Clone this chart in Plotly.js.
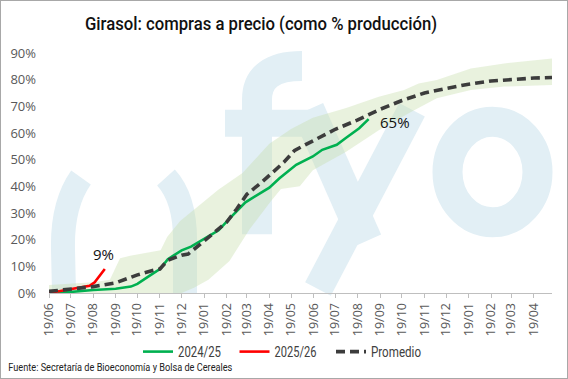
<!DOCTYPE html>
<html><head><meta charset="utf-8">
<script src="https://cdn.plot.ly/plotly-3.0.1.min.js"></script>
<style>
html,body{margin:0;padding:0;background:#fff;}
#wrap{position:relative;width:568px;height:379px;}
#chart{width:568px;height:379px;}
#frame{position:absolute;left:0;top:0;width:568px;height:379px;box-sizing:border-box;border:1.5px solid #a8a8a8;pointer-events:none;}
</style></head>
<body><div id="wrap"><div id="chart"></div><div id="frame"></div></div>
<script>
// ---- data (season-day aligned on a common Jun-19 start timeline) ----
const promDates = ['2024-06-19','2024-07-19','2024-08-19','2024-09-19','2024-10-05','2024-10-19','2024-11-10','2024-11-19','2024-11-23','2024-11-30','2024-12-19','2024-12-28','2025-01-19','2025-02-08','2025-02-19','2025-03-05','2025-03-19','2025-04-08','2025-04-19','2025-05-09','2025-05-24','2025-06-19','2025-07-19','2025-08-19','2025-09-19','2025-10-19','2025-11-19','2025-12-19','2026-01-19','2026-02-19','2026-03-19','2026-04-19','2026-05-14'];
const promVals  = [0.006,0.014,0.024,0.038,0.055,0.068,0.085,0.09,0.102,0.123,0.142,0.146,0.195,0.24,0.265,0.315,0.37,0.414,0.44,0.49,0.535,0.572,0.614,0.649,0.689,0.722,0.75,0.767,0.783,0.795,0.801,0.806,0.808];

const g2425Dates = ['2024-07-01','2024-07-19','2024-08-19','2024-09-19','2024-10-10','2024-10-19','2024-10-27','2024-11-05','2024-11-19','2024-11-30','2024-12-19','2025-01-01','2025-01-26','2025-02-08','2025-02-22','2025-03-17','2025-04-19','2025-05-03','2025-05-26','2025-06-18','2025-07-01','2025-07-21','2025-08-03','2025-08-21','2025-09-03'];
const g2425Vals  = [0.0,0.005,0.011,0.016,0.024,0.034,0.05,0.065,0.09,0.127,0.16,0.174,0.214,0.235,0.276,0.34,0.395,0.43,0.481,0.512,0.537,0.556,0.582,0.618,0.652];

const r2526Dates = ['2024-06-19','2024-07-01','2024-07-22','2024-08-05','2024-08-14','2024-08-21','2024-08-28','2024-09-04'];
const r2526Vals  = [0.0,0.006,0.016,0.021,0.027,0.04,0.065,0.09];

const bandUpDates = ['2024-06-19','2024-08-19','2024-09-11','2024-09-25','2024-10-09','2024-11-20','2024-11-29','2024-12-17','2025-02-08','2025-03-13','2025-04-19','2025-05-19','2025-06-18','2025-08-03','2025-09-17','2025-10-22','2025-11-11','2025-12-06','2026-01-22','2026-03-09','2026-05-14'];
const bandUpVals  = [0.03,0.04,0.05,0.13,0.14,0.16,0.21,0.27,0.388,0.45,0.56,0.615,0.657,0.694,0.736,0.761,0.786,0.799,0.842,0.861,0.879];
const bandLoDates = ['2024-06-19','2024-12-19','2025-01-05','2025-01-25','2025-02-23','2025-03-23','2025-04-20','2025-05-05','2025-05-31','2025-06-18','2025-08-03','2025-09-17','2025-11-01','2025-12-06','2026-01-22','2026-03-09','2026-05-14'];
const bandLoVals  = [0.0,0.0,0.02,0.05,0.12,0.24,0.34,0.39,0.40,0.46,0.53,0.61,0.68,0.73,0.761,0.774,0.78];

const seriesNames = ['2024/25','2025/26','Promedio'];
const titleText = 'Girasol: compras a precio (como % producción)';
const sourceText = 'Fuente: Secretaría de Bioeconomía y Bolsa de Cereales';

// ---- layout helpers ----
const L=49, R=16, T=53, B=85, W=568, H=379;
const pw=W-L-R, ph=H-T-B;
const px=x=>(x-L)/pw, py=y=>(T+ph-y)/ph;
const P=(pts)=>pts.map((p,i)=>(i===0?'M':(p.length===4?'Q':'L'))+' '+(p.length===4?`${px(p[0])},${py(p[1])} ${px(p[2])},${py(p[3])}`:`${px(p[0])},${py(p[1])}`)).join(' ');
const wm='#e2eff5';
const wmShape=(path,w)=>({type:'path',xref:'paper',yref:'paper',layer:'below',path:path,line:{color:wm,width:w},fillcolor:'rgba(0,0,0,0)'});

// background logo watermark
const shapes=[
  wmShape(P([[81,178],[62,205,63,250],[64,294]]),24),
  wmShape(P([[166,178],[186,200,185,245],[185,294]]),24),
  wmShape(P([[257,235],[257,100],[257,66,302,66]]),30),
  wmShape(P([[225,123.5],[312,123.5]]),27),
  wmShape(P([[308,110],[366,242]]),33),
  wmShape(P([[412,110],[318,290]]),29),
  {type:'circle',xref:'paper',yref:'paper',layer:'below',x0:px(447.5),x1:px(537.5),y0:py(223),y1:py(122),line:{color:wm,width:30},fillcolor:'rgba(0,0,0,0)'}
];

const traces=[
  {x:bandUpDates.concat(bandLoDates.slice().reverse()),y:bandUpVals.concat(bandLoVals.slice().reverse()),
   type:'scatter',mode:'lines',fill:'toself',fillcolor:'rgba(196,222,168,0.38)',line:{width:0},showlegend:false,hoverinfo:'skip'},
  {x:g2425Dates,y:g2425Vals,type:'scatter',mode:'lines',name:seriesNames[0],line:{color:'#00b050',width:2.6}},
  {x:r2526Dates,y:r2526Vals,type:'scatter',mode:'lines',name:seriesNames[1],line:{color:'#ff0000',width:2.6}},
  {x:promDates,y:promVals,type:'scatter',mode:'lines',name:seriesNames[2],line:{color:'#3c3c3c',width:3.6,dash:'9px,5px'}}
];

const cond='Roboto, "Noto Sans", sans-serif';
const tickFont={family:'"Open Sans",sans-serif',size:13,color:'#595959'};
const layout={
  width:W,height:H,margin:{l:L,r:R,t:T,b:B},
  paper_bgcolor:'#fff',plot_bgcolor:'#fff',
  title:{text:titleText,font:{family:cond,size:19,color:'#111',weight:500},x:261/W,xref:'container',xanchor:'center',y:1-23/H,yanchor:'middle'},
  xaxis:{type:'date',range:['2024-06-19','2026-05-14'],tick0:'2024-06-19',dtick:'M1',tickformat:'%d/%m',tickangle:-90,
    showgrid:false,zeroline:false,showline:true,linecolor:'#bfbfbf',linewidth:1,ticks:'outside',ticklen:4,tickcolor:'#bfbfbf',
    tickfont:{family:'"Open Sans",sans-serif',size:12.5,color:'#595959'}},
  yaxis:{range:[0,0.9],dtick:0.1,tickformat:'.0%',showgrid:false,zeroline:false,showline:false,ticks:'',ticklabelstandoff:12,
    tickfont:tickFont},
  showlegend:true,
  legend:{orientation:'h',x:px(283),xanchor:'center',y:py(352),yanchor:'middle',entrywidth:51.5,entrywidthmode:'pixels',
    font:{family:cond,size:14,color:'#404040'},bgcolor:'rgba(0,0,0,0)'},
  shapes:shapes,
  annotations:[
    {x:r2526Dates[r2526Dates.length-1],y:r2526Vals[r2526Vals.length-1],text:Math.round(r2526Vals[r2526Vals.length-1]*100)+'%',showarrow:false,
     xanchor:'center',yanchor:'bottom',xshift:-1,yshift:3,font:{family:'"Open Sans",sans-serif',size:15,color:'#111'}},
    {x:g2425Dates[g2425Dates.length-1],y:g2425Vals[g2425Vals.length-1],text:Math.round(g2425Vals[g2425Vals.length-1]*100)+'%',showarrow:false,
     xanchor:'left',yanchor:'middle',xshift:9,yshift:-3,font:{family:'"Open Sans",sans-serif',size:15,color:'#111'}},
    {xref:'paper',yref:'paper',x:px(120.5),y:py(368),xanchor:'center',yanchor:'middle',showarrow:false,text:sourceText,
     font:{family:cond,size:11.5,color:'#222'}}
  ]
};
Plotly.newPlot('chart',traces,layout,{staticPlot:true,displayModeBar:false}).then(function(gd){
  function squeeze(el,len){ el.setAttribute('textLength',len); el.setAttribute('lengthAdjust','spacingAndGlyphs'); }
  const t=gd.querySelector('.gtitle'); if(t) squeeze(t,352);
  gd.querySelectorAll('.annotation-text').forEach(function(el){ if(el.textContent===sourceText) squeeze(el,224); });
  const lw={'2024/25':43,'2025/26':42,'Promedio':50};
  gd.querySelectorAll('.legendtext').forEach(function(el){ const w=lw[el.textContent]; if(w) squeeze(el,w); });
});
</script></body></html>
